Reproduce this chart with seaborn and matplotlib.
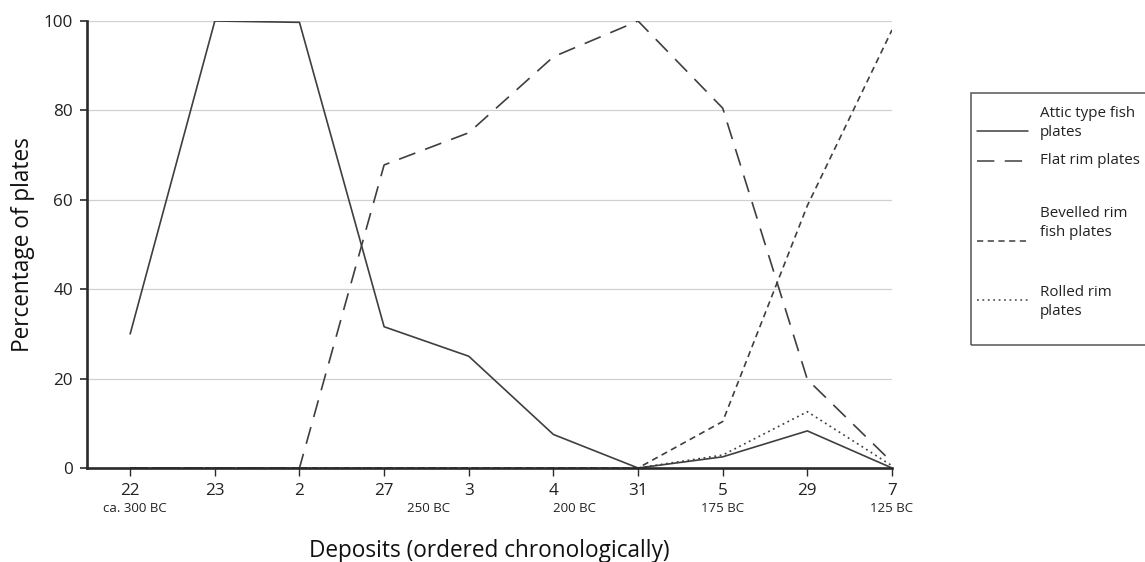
import numpy as np
import pandas as pd
import seaborn as sns
import matplotlib
import matplotlib.pyplot as plt
from matplotlib.lines import Line2D
from matplotlib.patches import Rectangle

# ---------------- data ----------------
deposits = ["22", "23", "2", "27", "3", "4", "31", "5", "29", "7"]
attic = [30, 100, 99.7, 31.6, 25, 7.5, 0, 2.5, 8.3, 0]
flat = [0, 0, 0, 67.8, 75, 92, 100, 80.5, 19.8, 1.3]
bevelled = [0, 0, 0, 0, 0, 0, 0, 10.4, 58.7, 98]
rolled = [0, 0, 0, 0, 0, 0, 0, 2.9, 12.6, 0.5]
series_names = ["Attic type fish plates", "Flat rim plates",
                "Bevelled rim fish plates", "Rolled rim plates"]
legend_labels = ["Attic type fish\nplates", "Flat rim plates",
                 "Bevelled rim\nfish plates", "Rolled rim\nplates"]
date_labels = ["ca. 300 BC", "250 BC", "200 BC", "175 BC", "125 BC"]
date_at = [0.05, 3.53, 5.25, 7.0, 9.0]   # position along deposit index
y_ticks = [0, 20, 40, 60, 80, 100]

# ---------------- style ----------------
sns.set_theme(style="white")
plt.rcParams['font.family'] = ['Open Sans', 'DejaVu Sans']
plt.rcParams['lines.scale_dashes'] = False

line_color = "#3f3f3f"
dash_map = {
    series_names[0]: "",
    series_names[1]: (12.5, 7.5),
    series_names[2]: (4.5, 3.2),
    series_names[3]: (1.3, 2.6),
}

rows = []
for name, vals in zip(series_names, [attic, flat, bevelled, rolled]):
    for i, v in enumerate(vals):
        rows.append({"idx": i, "deposit": deposits[i], "value": v, "series": name})
df = pd.DataFrame(rows)

fig = plt.figure(figsize=(11.45, 5.62), dpi=100)
ax = fig.add_axes([87 / 1145, 1 - 468 / 562, (892 - 87) / 1145, (468 - 21) / 562])

sns.lineplot(data=df, x="idx", y="value", style="series", style_order=series_names,
             dashes=dash_map, color=line_color, linewidth=1.2, legend=False, ax=ax,
             zorder=2)

ax.set_xlim(-0.51, 9)
ax.set_ylim(0, 100)
ax.set_xticks(range(len(deposits)))
ax.set_xticklabels(deposits)
ax.set_yticks(y_ticks)
ax.yaxis.grid(True, color="#d0d0d0", linewidth=0.9)
ax.xaxis.grid(False)
ax.set_axisbelow(True)

for s in ["top", "right"]:
    ax.spines[s].set_visible(False)
for s in ["left", "bottom"]:
    ax.spines[s].set_color("#2a2a2a")
    ax.spines[s].set_linewidth(1.9)
    ax.spines[s].set_zorder(3)

ax.tick_params(axis="y", which="major", left=True, length=5, width=1.2,
               color="#2a2a2a", pad=5, labelsize=12.3, labelcolor="#222222")
ax.tick_params(axis="x", which="major", bottom=True, length=6, width=1.0,
               color="#2a2a2a", pad=5, labelsize=12.3, labelcolor="#222222")

ax.set_xlabel("Deposits (ordered chronologically)", fontsize=16.3, color="#111111",
              va="center")
ax.xaxis.set_label_coords(0.5, -(551 - 468) / 447)
ax.set_ylabel("Percentage of plates", fontsize=16.3, color="#111111", va="center")
ax.yaxis.set_label_coords((23 - 87) / 805, 0.5)

# date annotations under tick labels
tr = ax.get_xaxis_transform()
for lab, pos in zip(date_labels, date_at):
    ax.text(pos, -(509 - 468) / 447, lab, transform=tr, ha="center", va="center",
            fontsize=9.5, color="#222222")

# ---------------- legend (drawn manually) ----------------
W, H = 1145, 562
def fx(px):
    return px / W
def fy(py):
    return 1 - py / H

fig.add_artist(Rectangle((fx(971), fy(345)), fx(1160) - fx(971), fy(93) - fy(345),
                         transform=fig.transFigure, fill=False,
                         edgecolor="#555555", linewidth=1.1))
text_y = [123, 160, 223, 302]
handle_y = [131, 161, 241, 300]
for name, lab, ty, hy in zip(series_names, legend_labels, text_y, handle_y):
    ln = Line2D([fx(977), fx(1028)], [fy(hy), fy(hy)], transform=fig.transFigure,
                color=line_color, linewidth=1.1)
    d = dash_map[name]
    if d:
        ln.set_dashes(d)
    fig.add_artist(ln)
    fig.text(fx(1040), fy(ty), lab, ha="left", va="center", fontsize=10.9,
             color="#222222", linespacing=1.32)

fig.savefig("out.png", dpi=100)
